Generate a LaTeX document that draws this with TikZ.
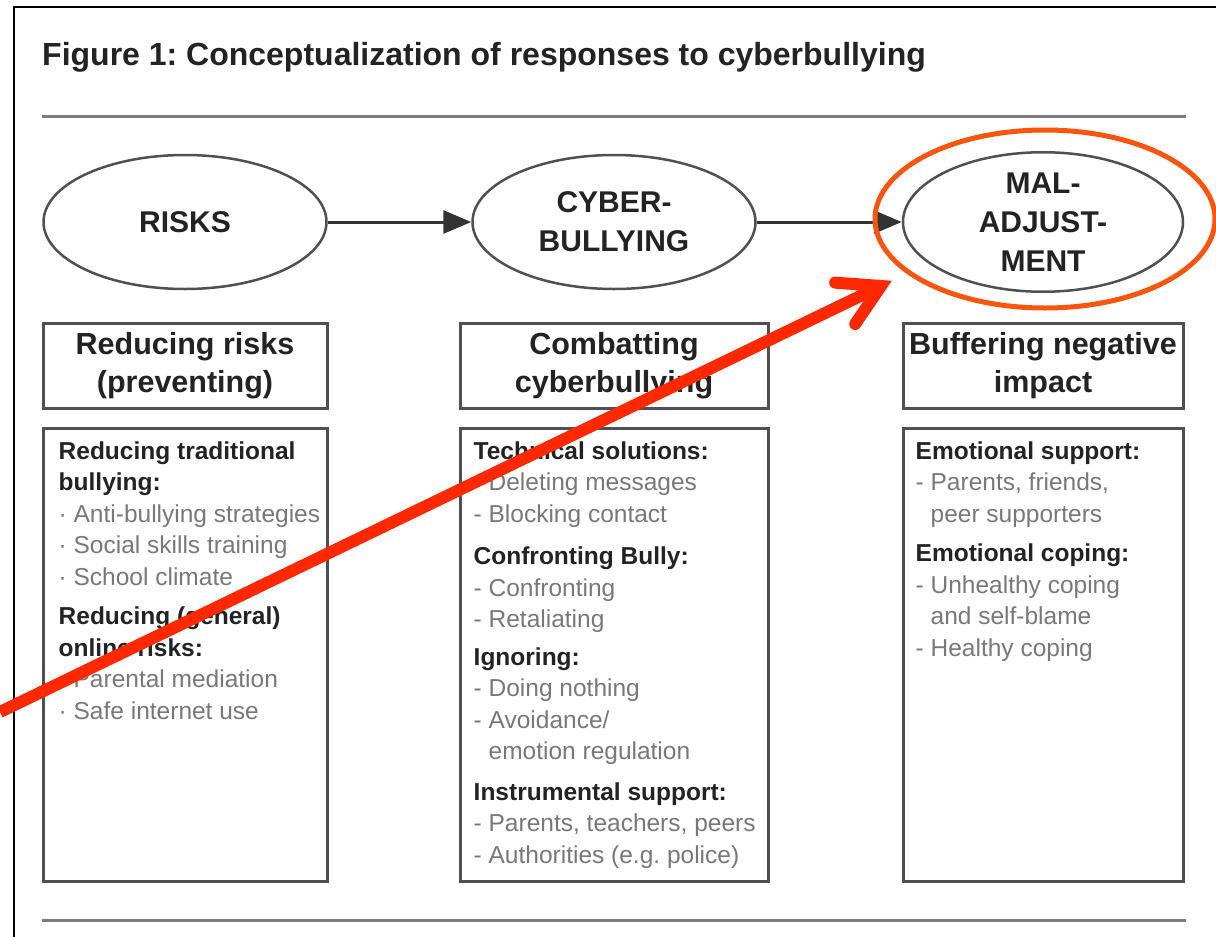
\documentclass[tikz,border=0pt]{standalone}
\usepackage{fontspec}
\setmainfont{Liberation Sans}
\usetikzlibrary{shapes.geometric,arrows.meta,calc}

\definecolor{framegray}{RGB}{80,80,80}
\definecolor{rulegray}{RGB}{125,125,125}
\definecolor{headtext}{RGB}{35,35,35}
\definecolor{itemgray}{RGB}{120,120,120}
\definecolor{markred}{RGB}{255,40,0}
\definecolor{markorange}{RGB}{250,85,15}

\newcommand{\resphead}[1]{\textbf{#1}}
\newcommand{\respitem}[1]{\textcolor{itemgray}{#1}}
\frenchspacing

\begin{document}
\begin{tikzpicture}[x=1pt,y=-1pt,
    stage/.style={ellipse, draw=framegray, line width=2.5pt, minimum width=283pt, minimum height=134pt, inner sep=0pt, align=center, font=\fontsize{30}{39}\selectfont\bfseries, text=headtext},
    headbox/.style={rectangle, draw=framegray, line width=3pt, minimum height=85pt, inner sep=0pt, align=center, font=\fontsize{30.5}{38}\selectfont\bfseries, text=headtext},
    listbox/.style={rectangle, draw=framegray, line width=3pt, minimum height=453pt, inner sep=0pt},
    listtext/.style={anchor=north west, inner sep=0pt, align=left, font=\fontsize{24.5}{31.5}\selectfont, text=headtext}]
  \useasboundingbox (0,0) rectangle (1216,937);
  \draw[black, line width=2pt] (14,937) -- (14,7) -- (1216,7);

  \node[anchor=west, inner sep=0pt, font=\fontsize{32}{38}\selectfont\bfseries, text=headtext] (title) at (42,57) {Figure 1: Conceptualization of responses to cyberbullying};
  \draw[rulegray, line width=3pt] (42,116) -- (1186,116);
  \draw[rulegray, line width=3pt] (42,920) -- (1186,920);

  \node[stage] (risks) at (185,222) {RISKS};
  \node[stage] (cyber) at (614,222) {CYBER-\\BULLYING};
  \node[stage, minimum width=280pt, minimum height=132pt] (maladj) at (1043,222) {MAL-\\ADJUST-\\MENT};
  \draw[-{Triangle[length=28pt,width=23pt]}, black!80, line width=3pt] (risks) -- (cyber);
  \draw[-{Triangle[length=28pt,width=23pt]}, black!80, line width=3pt] (cyber) -- (maladj);

  \node[headbox, minimum width=284pt] (preventhead) at (185,365.5) {Reducing risks\\(preventing)};
  \node[headbox, minimum width=308pt] (combathead) at (614,365.5) {Combatting\\cyberbullying};
  \node[headbox, minimum width=280pt] (bufferhead) at (1043,365.5) {Buffering negative\\impact};

  \node[listbox, minimum width=284pt] (preventbody) at (185,654.5) {};
  \node[listbox, minimum width=308pt] (combatbody) at (614,654.5) {};
  \node[listbox, minimum width=280pt] (bufferbody) at (1043,654.5) {};

  \node[listtext] (preventlist) at ([shift={(17,15)}]preventbody.north west) {%
    \resphead{Reducing traditional}\\
    \resphead{bullying:}\\
    \respitem{· Anti-bullying strategies}\\
    \respitem{· Social skills training}\\
    \respitem{· School climate}\\[8pt]
    \resphead{Reducing (general)}\\
    \resphead{online risks:}\\
    \respitem{· Parental mediation}\\
    \respitem{· Safe internet use}};
  \node[listtext] (combatlist) at ([shift={(15,15)}]combatbody.north west) {%
    \resphead{Technical solutions:}\\
    \respitem{- Deleting messages}\\
    \respitem{- Blocking contact}\\[11pt]
    \resphead{Confronting Bully:}\\
    \respitem{- Confronting}\\
    \respitem{- Retaliating}\\[6pt]
    \resphead{Ignoring:}\\
    \respitem{- Doing nothing}\\
    \respitem{- Avoidance/}\\
    \respitem{\phantom{- }emotion regulation}\\[9pt]
    \resphead{Instrumental support:}\\
    \respitem{- Parents, teachers, peers}\\
    \respitem{- Authorities (e.g. police)}};
  \node[listtext] (bufferlist) at ([shift={(14,15)}]bufferbody.north west) {%
    \resphead{Emotional support:}\\
    \respitem{- Parents, friends,}\\
    \respitem{\phantom{- }peer supporters}\\[8pt]
    \resphead{Emotional coping:}\\
    \respitem{- Unhealthy coping}\\
    \respitem{\phantom{- }and self-blame}\\
    \respitem{- Healthy coping}};

  \node[ellipse, draw=markorange, line width=5pt, minimum width=340pt, minimum height=178pt] (markring) at (1045,219) {};
  \coordinate (markstart) at (0,712);
  \coordinate (marktip) at (881,286);
  \draw[markred, line width=12pt] (markstart) -- (marktip);
  \draw[markred, line width=12pt, line cap=round, line join=miter] ($(marktip)!46pt!30:(markstart)$) -- (marktip) -- ($(marktip)!46pt!-30:(markstart)$);
\end{tikzpicture}
\end{document}
